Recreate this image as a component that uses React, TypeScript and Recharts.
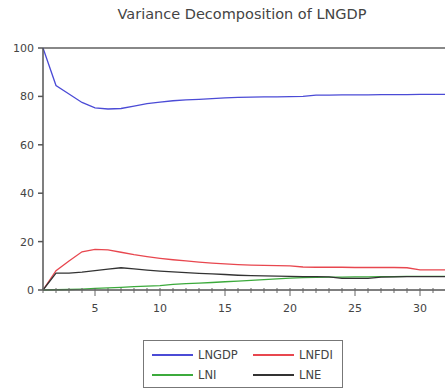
import { LineChart, Line, XAxis, YAxis, ReferenceLine } from "recharts";

const periods = Array.from({ length: 32 }, (_, i) => i + 1);

const lngdp = [100, 84.5, 81, 77.5, 75.3, 74.8, 75, 76, 77, 77.6, 78.2, 78.6, 78.8, 79.1, 79.4, 79.6, 79.7, 79.8, 79.8, 79.9, 80, 80.5, 80.5, 80.6, 80.6, 80.6, 80.7, 80.7, 80.7, 80.8, 80.8, 80.8];
const lnfdi = [0, 8, 12, 15.8, 16.8, 16.6, 15.6, 14.6, 13.8, 13.1, 12.5, 12, 11.5, 11.1, 10.8, 10.5, 10.3, 10.2, 10.1, 10, 9.5, 9.4, 9.4, 9.4, 9.3, 9.3, 9.3, 9.3, 9.2, 8.3, 8.3, 8.3];
const lni = [0, 0.1, 0.2, 0.4, 0.7, 0.9, 1.1, 1.4, 1.6, 1.8, 2.3, 2.6, 2.8, 3.1, 3.4, 3.7, 4.0, 4.3, 4.6, 4.9, 5.1, 5.2, 5.3, 5.3, 5.4, 5.4, 5.5, 5.5, 5.6, 5.6, 5.6, 5.6];
const lne = [0, 7, 7, 7.4, 8, 8.6, 9.2, 8.7, 8.2, 7.8, 7.5, 7.2, 6.9, 6.7, 6.4, 6.1, 5.9, 5.8, 5.7, 5.6, 5.5, 5.5, 5.4, 4.8, 4.8, 4.8, 5.3, 5.4, 5.5, 5.5, 5.5, 5.5];

const yTicks = [0, 20, 40, 60, 80, 100];
const xLabels = [5, 10, 15, 20, 25, 30];

const series = [
  { key: "LNGDP", color: "#4b4bd6" },
  { key: "LNFDI", color: "#e8474f" },
  { key: "LNI", color: "#3caa3c" },
  { key: "LNE", color: "#333333" },
];

const data = periods.map((p, i) => ({
  period: p,
  LNGDP: lngdp[i],
  LNFDI: lnfdi[i],
  LNI: lni[i],
  LNE: lne[i],
}));

const font = "'DejaVu Sans', sans-serif";

const XTick = (props: any) => {
  const { x, y, payload } = props;
  const major = xLabels.includes(payload.value);
  return (
    <g>
      <line x1={x} x2={x} y1={y - 2} y2={y + (major ? 6 : 3)} stroke="#666" strokeWidth={1} />
      {major && (
        <text x={x} y={y + 22} textAnchor="middle" fontSize={11} fill="#444" fontFamily={font}>
          {payload.value}
        </text>
      )}
    </g>
  );
};

export default function App() {
  return (
    <div style={{ position: "absolute", left: 0, top: 0, width: 445, height: 392, overflow: "hidden", background: "#fff" }}>
      <div
        style={{
          position: "absolute",
          left: 0,
          width: 484,
          top: 6,
          textAlign: "center",
          fontFamily: font,
          fontSize: 14.5,
          color: "#444",
        }}
      >
        Variance Decomposition of LNGDP
      </div>
      <LineChart width={448} height={392} data={data} margin={{ top: 48, right: 2, left: 8, bottom: 72 }}>
        <XAxis
          dataKey="period"
          type="number"
          domain={[1, 32]}
          ticks={periods}
          interval={0}
          tickSize={0}
          tickMargin={0}
          tickLine={false}
          tick={<XTick />}
          height={30}
          stroke="#555"
          strokeWidth={1.5}
        />
        <YAxis
          domain={[0, 100]}
          ticks={yTicks}
          width={35}
          tickSize={5}
          tickMargin={4}
          stroke="#555"
          strokeWidth={1.5}
          tick={{ fontSize: 11, fill: "#444", fontFamily: font }}
        />
        <ReferenceLine y={100} stroke="#888" strokeWidth={2} />
        {series.map((s) => (
          <Line
            key={s.key}
            dataKey={s.key}
            type="linear"
            stroke={s.color}
            strokeWidth={1.3}
            dot={false}
            isAnimationActive={false}
          />
        ))}
      </LineChart>
      <div
        style={{
          position: "absolute",
          left: 143,
          top: 340,
          width: 198,
          height: 46,
          border: "1px solid #777",
          fontFamily: font,
          fontSize: 11.5,
          color: "#444",
        }}
      >
        {series.map((s, i) => (
          <div
            key={s.key}
            style={{
              position: "absolute",
              left: i % 2 === 0 ? 8 : 109,
              top: i < 2 ? 7 : 27,
              display: "flex",
              alignItems: "center",
              lineHeight: "14px",
            }}
          >
            <div style={{ width: 41, height: 1.3, background: s.color, marginRight: 5 }} />
            <span>{s.key}</span>
          </div>
        ))}
      </div>
    </div>
  );
}
